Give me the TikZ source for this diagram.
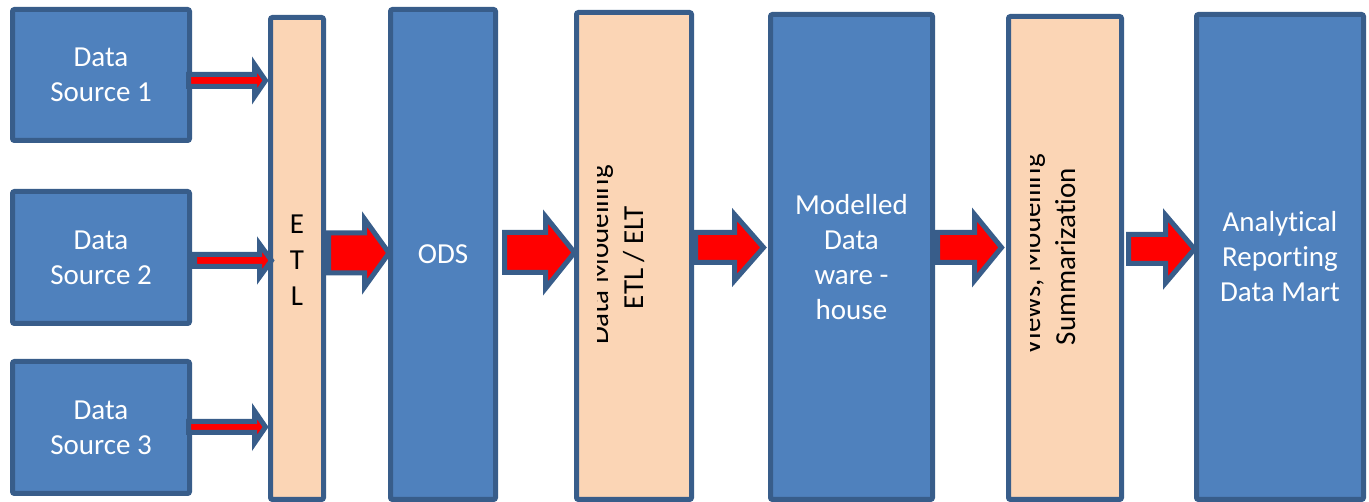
\documentclass[tikz,border=0pt]{standalone}
\usepackage{fontspec}
\setmainfont{Carlito}[Ligatures=CommonOff]
\usetikzlibrary{calc}
\definecolor{boxblue}{HTML}{4F81BD}
\definecolor{edgeblue}{HTML}{385D8A}
\definecolor{peach}{HTML}{FBD5B5}
\newcommand\blockarrow[5]{%
  \draw[flowarrow] let \p1=(#1), \p2=(#2) in
    (\x1,\y1+#3pt) -- (\x2-#5pt,\y1+#3pt) -- (\x2-#5pt,\y1+#4pt) -- (\x2,\y1)
    -- (\x2-#5pt,\y1-#4pt) -- (\x2-#5pt,\y1-#3pt) -- (\x1,\y1-#3pt) -- cycle;}
\begin{document}
\begin{tikzpicture}[x=1pt,y=-1pt,
  boxbase/.style={draw=edgeblue, line width=5pt, rounded corners=2pt, inner sep=0pt,
    align=center, font=\fontsize{29}{35}\selectfont},
  bluebox/.style={boxbase, fill=boxblue, text=white},
  peachbox/.style={boxbase, fill=peach, text=black},
  flowarrow/.style={draw=edgeblue, fill=red, line width=5pt, line join=miter},
  rottext/.style={rotate=90, anchor=base, inner sep=0pt, text=black,
    font=\fontsize{29}{35}\selectfont}]
\useasboundingbox (0,0) rectangle (1369,502);
% data sources
\node[bluebox, minimum width=177pt, minimum height=131pt] (ds1) at (101,75) {Data\\Source 1};
\node[bluebox, minimum width=177pt, minimum height=132pt] (ds2) at (101,257.5) {Data\\Source 2};
\node[bluebox, minimum width=177pt, minimum height=132pt] (ds3) at (101,427.5) {Data\\Source 3};
% columns
\node[peachbox, minimum width=53pt, minimum height=482pt] (etl) at (297,258.5) {};
\node[font=\fontsize{29}{36}\selectfont, align=center, inner sep=0pt] (etltext) at (297,260) {E\\T\\L};
\node[bluebox, minimum width=105pt, minimum height=490pt] (ods) at (443,254.5) {ODS};
\node[peachbox, minimum width=115pt, minimum height=487pt] (dm) at (634,256) {};
\node[bluebox, minimum width=162pt, minimum height=485pt] (dw) at (851.5,257) {Modelled\\Data\\ware -\\house};
\node[peachbox, minimum width=113pt, minimum height=483pt] (views) at (1065,258) {};
\node[bluebox, minimum width=167pt, minimum height=485pt] (mart) at (1280,257) {Analytical\\Reporting\\Data Mart};
% rotated texts (first line clipped)
\begin{scope}
  \clip (597,20) rectangle (690,495);
  \node[rottext] (dmt1) at (608,255) {Data Modelling};
\end{scope}
\node[rottext] (dmt2) at (643,257.5) {ETL / ELT};
\begin{scope}
  \clip (1030,20) rectangle (1120,495);
  \node[rottext] (vt1) at (1040,255) {Views, Modelling};
\end{scope}
\node[rottext] (vt2) at (1075,256.5) {Summarization};
% arrow end points
\coordinate (a1s) at ($(ds1.east)+(-3.5,5.5)$);
\coordinate (a1e) at ($(etl.west |- a1s)+(-2.5,0)$);
\coordinate (a2s) at ($(ds2.east)+(2.5,3)$);
\coordinate (a2e) at ($(etl.west |- a2s)+(3.5,0)$);
\coordinate (a3s) at ($(ds3.east)+(-3.5,-0.5)$);
\coordinate (a3e) at ($(etl.west |- a3s)+(-2.5,0)$);
\coordinate (b1s) at ($(etl.east)+(2.5,-5.5)$);
\coordinate (b1e) at ($(ods.west |- b1s)+(1,0)$);
\coordinate (b2s) at ($(ods.east)+(6.5,-2)$);
\coordinate (b2e) at ($(dm.west |- b2s)+(0.5,0)$);
\coordinate (b3s) at ($(dm.east)+(1.5,-8.5)$);
\coordinate (b3e) at ($(dw.west |- b3s)+(-4.5,0)$);
\coordinate (b4s) at ($(dw.east)+(2.5,-9.5)$);
\coordinate (b4e) at ($(views.west |- b4s)+(-4.5,0)$);
\coordinate (b5s) at ($(views.east)+(4.5,-9)$);
\coordinate (b5e) at ($(mart.west |- b5s)+(0.5,0)$);
% arrows
\blockarrow{a1s}{a1e}{6}{16}{11}
\blockarrow{a2s}{a2e}{6}{16.5}{12}
\blockarrow{a3s}{a3e}{5.5}{16}{11}
\blockarrow{b1s}{b1e}{20}{34}{24.5}
\blockarrow{b2s}{b2e}{20}{36}{29}
\blockarrow{b3s}{b3e}{15}{33}{29}
\blockarrow{b4s}{b4e}{15}{33}{27}
\blockarrow{b5s}{b5e}{14.5}{34}{29}
\end{tikzpicture}
\end{document}
